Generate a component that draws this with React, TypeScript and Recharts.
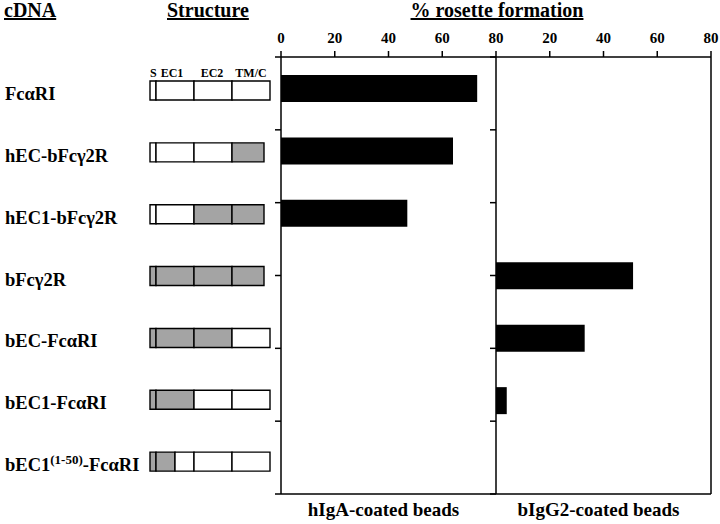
import { BarChart, Bar, XAxis, YAxis, Cell, ReferenceLine } from "recharts";

// constructs, top to bottom
const constructs = [
  "FcαRI",
  "hEC-bFcγ2R",
  "hEC1-bFcγ2R",
  "bFcγ2R",
  "bEC-FcαRI",
  "bEC1-FcαRI",
  "bEC1(1-50)-FcαRI",
];

// % rosette formation
const hIgA = [73, 64, 47, 0, 0, 0, 0];
const bIgG2 = [0, 0, 0, 51, 33, 4, 0];
const pctTicks = [0, 20, 40, 60, 80];

// domain lengths for the structure boxes (S, EC1 split in two, EC2, TM/C)
const sLen = [6, 6, 6, 6, 6, 6, 6];
const ec1aLen = [38, 38, 38, 38, 38, 38, 19];
const ec1bLen = [0, 0, 0, 0, 0, 0, 19];
const ec2Len = [38, 38, 38, 38, 38, 38, 38];
const tmLen = [38, 32, 32, 32, 38, 38, 38];

// origin of each domain: h = human, b = bovine
const sSrc = ["h", "h", "h", "b", "b", "b", "b"];
const ec1aSrc = ["h", "h", "h", "b", "b", "b", "b"];
const ec1bSrc = ["h", "h", "h", "b", "b", "b", "h"];
const ec2Src = ["h", "h", "b", "b", "b", "h", "h"];
const tmSrc = ["h", "b", "b", "b", "h", "h", "h"];

const rows = constructs.map((name, i) => ({
  name,
  hIgA: hIgA[i],
  bIgG2: bIgG2[i],
  s: sLen[i],
  ec1a: ec1aLen[i],
  ec1b: ec1bLen[i],
  ec2: ec2Len[i],
  tm: tmLen[i],
}));

const FONT = "'Liberation Serif', 'Times New Roman', serif";
const GRAY = "#a4a4a4";
const W = 720;
const H = 524;

const abs = { position: "absolute" as const, left: 0, top: 0 };
const tickFont = { fontFamily: FONT, fontSize: 15, fontWeight: 700, fill: "#000" };

const ConstructTick = (props: any) => {
  const { y, payload } = props;
  const m = String(payload.value).match(/^(.*?)\((.+)\)(.*)$/);
  return (
    <text x={5} y={y + 9} fontFamily={FONT} fontSize={18.5} fontWeight={700} fill="#000">
      {m ? (
        <>
          {m[1]}
          <tspan fontSize={13} dy={-7}>({m[2]})</tspan>
          <tspan dy={7}>{m[3]}</tspan>
        </>
      ) : (
        payload.value
      )}
    </text>
  );
};

const segs: [string, string[]][] = [
  ["s", sSrc],
  ["ec1a", ec1aSrc],
  ["ec1b", ec1bSrc],
  ["ec2", ec2Src],
  ["tm", tmSrc],
];

const StructureChart = () => (
  <BarChart
    width={W}
    height={H}
    data={rows}
    layout="vertical"
    margin={{ top: 60, bottom: 31, left: 149, right: 450 }}
  >
    <XAxis type="number" domain={[0, 120]} hide />
    <YAxis
      type="category"
      dataKey="name"
      width={1}
      axisLine={false}
      tickLine={false}
      tick={<ConstructTick />}
      interval={0}
    />
    {segs.map(([key, src]) => (
      <Bar
        key={key}
        dataKey={key}
        stackId="st"
        barSize={19}
        stroke="#000"
        strokeWidth={1.4}
        isAnimationActive={false}
      >
        {src.map((o, i) => (
          <Cell key={i} fill={o === "b" ? GRAY : "#fff"} />
        ))}
      </Bar>
    ))}
  </BarChart>
);

const line = { stroke: "#000", strokeWidth: 1.5 };
const blank = () => "";

const RosettePanel = ({
  dataKey,
  left,
  right,
  ticks,
  label,
  edge,
}: {
  dataKey: string;
  left: number;
  right: number;
  ticks: number[];
  label: string;
  edge: boolean;
}) => (
  <BarChart
    width={W}
    height={H}
    data={rows}
    layout="vertical"
    margin={{ top: 56, bottom: 29, left: left - 1, right }}
  >
    <XAxis
      xAxisId="top"
      type="number"
      orientation="top"
      domain={[0, 80]}
      ticks={ticks}
      height={1}
      tickSize={6}
      tickMargin={8}
      tick={tickFont}
      axisLine={line}
      tickLine={line}
      interval={0}
    />
    <XAxis
      xAxisId="bottom"
      type="number"
      orientation="bottom"
      domain={[0, 80]}
      height={1}
      tick={false}
      tickLine={false}
      axisLine={line}
      label={{
        value: label,
        position: "bottom",
        offset: 8,
        dx: -5,
        style: { fontFamily: FONT, fontSize: 19, fontWeight: 700, fill: "#000" },
      }}
    />
    <YAxis yAxisId="cat" type="category" dataKey="name" hide width={0} />
    <YAxis
      yAxisId="grid"
      type="number"
      domain={[0, 7]}
      ticks={[0, 1, 2, 3, 4, 5, 6, 7]}
      allowDataOverflow
      width={1}
      tickFormatter={blank}
      tickSize={6}
      axisLine={line}
      tickLine={line}
      interval={0}
    />
    {edge && (
      <ReferenceLine x={80} xAxisId="top" yAxisId="cat" stroke="#000" strokeWidth={1.5} />
    )}
    <Bar
      dataKey={dataKey}
      xAxisId="top"
      yAxisId="cat"
      fill="#000"
      barSize={27}
      isAnimationActive={false}
    />
  </BarChart>
);

const headStyle = {
  fontFamily: FONT,
  fontSize: 20,
  fontWeight: 700,
  fill: "#000",
  textDecoration: "underline",
};
const domStyle = { fontFamily: FONT, fontSize: 12, fontWeight: 700, fill: "#000" };

export default function App() {
  return (
    <div style={{ position: "absolute", left: 0, top: 0, width: W, height: H, background: "#fff" }}>
      <div style={abs}>
        <RosettePanel dataKey="hIgA" left={281} right={224} ticks={pctTicks} label="hIgA-coated beads" edge={false} />
      </div>
      <div style={abs}>
        <RosettePanel dataKey="bIgG2" left={496} right={9} ticks={pctTicks.slice(1)} label="bIgG2-coated beads" edge />
      </div>
      <div style={abs}>
        <StructureChart />
      </div>
      <svg width={W} height={H} style={{ ...abs, pointerEvents: "none" }}>
        <text x={4} y={17} style={headStyle}>cDNA</text>
        <text x={167} y={17} style={headStyle}>Structure</text>
        <text x={497} y={17} textAnchor="middle" style={headStyle}>% rosette formation</text>
        <text x={150} y={77} style={domStyle}>S</text>
        <text x={172} y={77} textAnchor="middle" style={domStyle}>EC1</text>
        <text x={212} y={77} textAnchor="middle" style={domStyle}>EC2</text>
        <text x={251} y={77} textAnchor="middle" style={domStyle}>TM/C</text>
      </svg>
    </div>
  );
}
